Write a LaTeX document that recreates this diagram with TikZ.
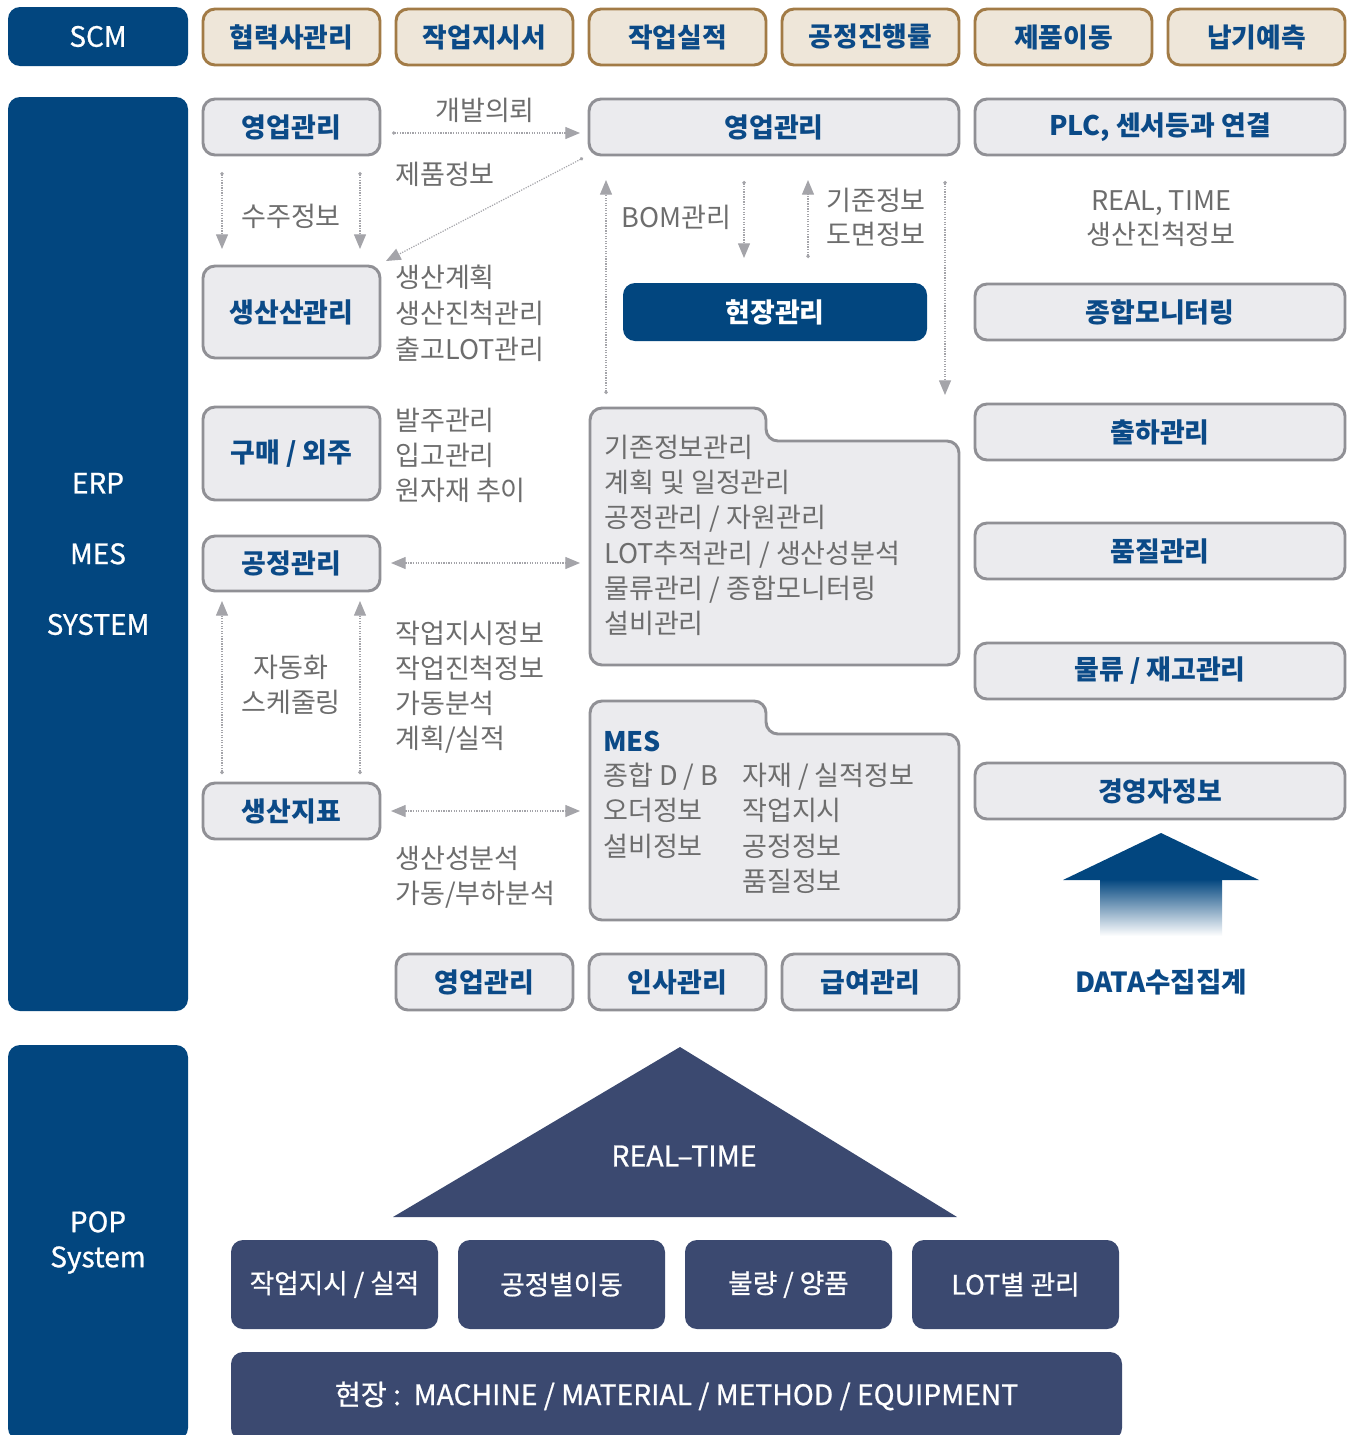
\documentclass[tikz,border=0pt]{standalone}
\usepackage{fontspec}
\setmainfont{Noto Sans CJK KR}
\newfontfamily\krmed{Noto Sans CJK KR}[FakeBold=0.8]
\usetikzlibrary{arrows.meta}
\definecolor{dkblue}{HTML}{02467F}
\definecolor{lblue}{HTML}{0B4A87}
\definecolor{beigef}{HTML}{EEE6D9}
\definecolor{beiged}{HTML}{A27B46}
\definecolor{grayf}{HTML}{EBEBEE}
\definecolor{grayd}{HTML}{909095}
\definecolor{txtgray}{HTML}{6D6D6D}
\definecolor{arrowgray}{HTML}{A4A4A9}
\definecolor{slate}{HTML}{3B4970}
\tikzset{
  sz/.style 2 args={minimum width=#1*0.75pt, minimum height=#2*0.75pt},
  base/.style={inner sep=0pt, rounded corners=9pt},
  bluebox/.style={base, fill=dkblue, text=white, align=center, font=\krmed\fontsize{21}{22}\selectfont},
  beigebox/.style={base, fill=beigef, draw=beiged, line width=2.2pt, text=lblue, font=\bfseries\fontsize{20.1}{22}\selectfont},
  graybox/.style={base, fill=grayf, draw=grayd, line width=2.2pt, text=lblue, font=\bfseries\fontsize{20.2}{22}\selectfont},
  navybox/.style={base, fill=dkblue, text=white, font=\bfseries\fontsize{20.2}{22}\selectfont},
  slatebox/.style={base, fill=slate, text=white, font=\krmed\fontsize{20}{22}\selectfont},
  folder/.style={fill=grayf, draw=grayd, line width=2.2pt, rounded corners=9pt},
  note/.style={text=txtgray, inner sep=0pt, text height=16.9pt, text depth=1.4pt, font=\fontsize{20.3}{22}\selectfont},
  flow/.style={draw=arrowgray, densely dotted, line width=0.9pt, {Circle[length=2.5pt]}-{Triangle[width=9pt,length=11pt]}},
  flow2/.style={draw=arrowgray, densely dotted, line width=0.9pt, {Triangle[width=9pt,length=11pt]}-{Triangle[width=9pt,length=11pt]}}
}
\begin{document}
\begin{tikzpicture}[x=0.75pt,y=-0.75pt]
\clip (0,0) rectangle (1354,1435);
\fill[white] (0,0) rectangle (1354,1435);

% ---- left column ----
\node[bluebox, sz={180}{59}] (scm) at (98,36.5) {SCM};
\node[bluebox, sz={180}{914}, font=\krmed\fontsize{21}{53}\selectfont] (erp) at (98,554) {ERP\\MES\\SYSTEM};
\node[bluebox, sz={180}{395}, font=\krmed\fontsize{21}{26.3}\selectfont] (pop) at (98,1242.5) {POP\\System};

% ---- top row ----
\node[beigebox, sz={177}{56}] (t1) at (291.5,37) {협력사관리};
\node[beigebox, sz={177}{56}] (t2) at (484.5,37) {작업지시서};
\node[beigebox, sz={177}{56}] (t3) at (677.5,37) {작업실적};
\node[beigebox, sz={177}{56}] (t4) at (870.5,37) {공정진행률};
\node[beigebox, sz={177}{56}] (t5) at (1063.5,37) {제품이동};
\node[beigebox, sz={177}{56}] (t6) at (1256.5,37) {납기예측};

% ---- ERP left boxes ----
\node[graybox, sz={177}{56}] (sales) at (291.5,127) {영업관리};
\node[graybox, sz={177}{92}] (prod) at (291.5,312) {생산산관리};
\node[graybox, sz={177}{93}] (buy) at (291.5,453.5) {구매 / 외주};
\node[graybox, sz={177}{55}] (proc) at (291.5,563.5) {공정관리};
\node[graybox, sz={177}{56}] (kpi) at (291.5,811) {생산지표};

% ---- middle ----
\node[graybox, sz={370}{56}] (msales) at (774,127) {영업관리};
\node[navybox, sz={304}{58}] (field) at (775,312) {현장관리};

\draw[folder] (590,665) -- (590,408) -- (766,408) -- (766,441) -- (959,441) -- (959,665) -- cycle;
\draw[folder] (590,920) -- (590,701) -- (766,701) -- (766,734) -- (959,734) -- (959,920) -- cycle;

\node[note, anchor=west] (f1a) at (604,447) {기존정보관리};
\node[note, anchor=west] (f1b) at (604,482) {계획 및 일정관리};
\node[note, anchor=west] (f1c) at (604,517) {공정관리 / 자원관리};
\node[note, anchor=west] (f1d) at (604,553) {LOT추적관리 / 생산성분석};
\node[note, anchor=west] (f1e) at (604,588) {물류관리 / 종합모니터링};
\node[note, anchor=west] (f1f) at (604,623) {설비관리};

\node[note, anchor=west, text=lblue, font=\bfseries\fontsize{20.2}{22}\selectfont] (mes) at (603,741) {MES};
\node[note, anchor=west] (m1) at (603,775) {종합 D / B};
\node[note, anchor=west] (m2) at (603,810) {오더정보};
\node[note, anchor=west] (m3) at (603,846) {설비정보};
\node[note, anchor=west] (m4) at (742,775) {자재 / 실적정보};
\node[note, anchor=west] (m5) at (742,810) {작업지시};
\node[note, anchor=west] (m6) at (742,846) {공정정보};
\node[note, anchor=west] (m7) at (742,881) {품질정보};

% ---- right column ----
\node[graybox, sz={370}{56}] (plc) at (1160,127) {PLC, 센서등과 연결};
\node[graybox, sz={370}{56}] (mon) at (1160,312) {종합모니터링};
\node[graybox, sz={370}{56}] (ship) at (1160,432) {출하관리};
\node[graybox, sz={370}{56}] (qual) at (1160,551) {품질관리};
\node[graybox, sz={370}{56}] (logi) at (1160,671) {물류 / 재고관리};
\node[graybox, sz={370}{56}] (exec) at (1160,791) {경영자정보};

\node[note] (rt1) at (1161,200) {REAL, TIME};
\node[note] (rt2) at (1161,234) {생산진척정보};

% gradient arrow
\shade[top color=dkblue, bottom color=white] (1100,879) rectangle (1222,936);
\fill[dkblue] (1161,833) -- (1259,880) -- (1063,880) -- cycle;
\node[text=lblue, font=\bfseries\fontsize{20.7}{22}\selectfont] (data) at (1161,982) {DATA수집집계};

% ---- bottom ERP row ----
\node[graybox, sz={177}{56}] (b1) at (484.5,982) {영업관리};
\node[graybox, sz={177}{56}] (b2) at (677.5,982) {인사관리};
\node[graybox, sz={177}{56}] (b3) at (870.5,982) {급여관리};

% ---- notes ----
\node[note] (n1) at (485,110) {개발의뢰};
\node[note, anchor=west] (n2) at (395,174) {제품정보};
\node[note] (n3) at (291,216) {수주정보};
\node[note, anchor=west] (n4) at (395,277) {생산계획};
\node[note, anchor=west] (n5) at (395,313) {생산진척관리};
\node[note, anchor=west] (n6) at (395,349) {출고LOT관리};
\node[note, anchor=west] (n7) at (395,420) {발주관리};
\node[note, anchor=west] (n8) at (395,455) {입고관리};
\node[note, anchor=west] (n9) at (395,490) {원자재 추이};
\node[note] (n10) at (291,667) {자동화};
\node[note] (n11) at (291,702) {스케줄링};
\node[note, anchor=west] (n12) at (395,633) {작업지시정보};
\node[note, anchor=west] (n13) at (395,668) {작업진척정보};
\node[note, anchor=west] (n14) at (395,703) {가동분석};
\node[note, anchor=west] (n15) at (395,738) {계획/실적};
\node[note, anchor=west] (n16) at (395,858) {생산성분석};
\node[note, anchor=west] (n17) at (395,893) {가동/부하분석};
\node[note, anchor=west] (n18) at (621,217) {BOM관리};
\node[note, anchor=west] (n19) at (826,200) {기준정보};
\node[note, anchor=west] (n20) at (826,234) {도면정보};

% ---- connectors ----
\coordinate (a1s) at (392,133); \coordinate (a1e) at (580,133);
\coordinate (a2s) at (583,158); \coordinate (a2e) at (386,261);
\coordinate (a3s) at (222,172); \coordinate (a3e) at (222,249);
\coordinate (a4s) at (360,172); \coordinate (a4e) at (360,249);
\coordinate (a5s) at (606,394); \coordinate (a5e) at (606,180);
\coordinate (a6s) at (744,181); \coordinate (a6e) at (744,258);
\coordinate (a7s) at (808,258); \coordinate (a7e) at (808,180);
\coordinate (a8s) at (945,181); \coordinate (a8e) at (945,395);
\coordinate (a9s) at (391,563); \coordinate (a9e) at (580,563);
\coordinate (a10s) at (391,811); \coordinate (a10e) at (580,811);
\coordinate (a11s) at (222,774); \coordinate (a11e) at (222,601);
\coordinate (a12s) at (360,774); \coordinate (a12e) at (360,601);
\draw[flow] (a1s) -- (a1e);
\draw[flow] (a2s) -- (a2e);
\draw[flow] (a3s) -- (a3e);
\draw[flow] (a4s) -- (a4e);
\draw[flow] (a5s) -- (a5e);
\draw[flow] (a6s) -- (a6e);
\draw[flow] (a7s) -- (a7e);
\draw[flow] (a8s) -- (a8e);
\draw[flow2] (a9s) -- (a9e);
\draw[flow2] (a10s) -- (a10e);
\draw[flow] (a11s) -- (a11e);
\draw[flow] (a12s) -- (a12e);

% ---- POP section ----
\fill[slate] (680,1047) -- (957,1217) -- (393,1217) -- cycle;
\node[text=white, font=\krmed\fontsize{21.4}{22}\selectfont] (rt) at (684,1156) {REAL–TIME};
\node[slatebox, sz={207}{89}] (p1) at (334.5,1284.5) {작업지시 / 실적};
\node[slatebox, sz={207}{89}] (p2) at (561.5,1284.5) {공정별이동};
\node[slatebox, sz={207}{89}] (p3) at (788.5,1284.5) {불량 / 양품};
\node[slatebox, sz={207}{89}] (p4) at (1015.5,1284.5) {LOT별 관리};
\node[slatebox, sz={891}{88}, font=\krmed\fontsize{21.2}{22}\selectfont] (p5) at (676.5,1396) {현장 :\ \ MACHINE / MATERIAL / METHOD / EQUIPMENT};

\end{tikzpicture}
\end{document}
